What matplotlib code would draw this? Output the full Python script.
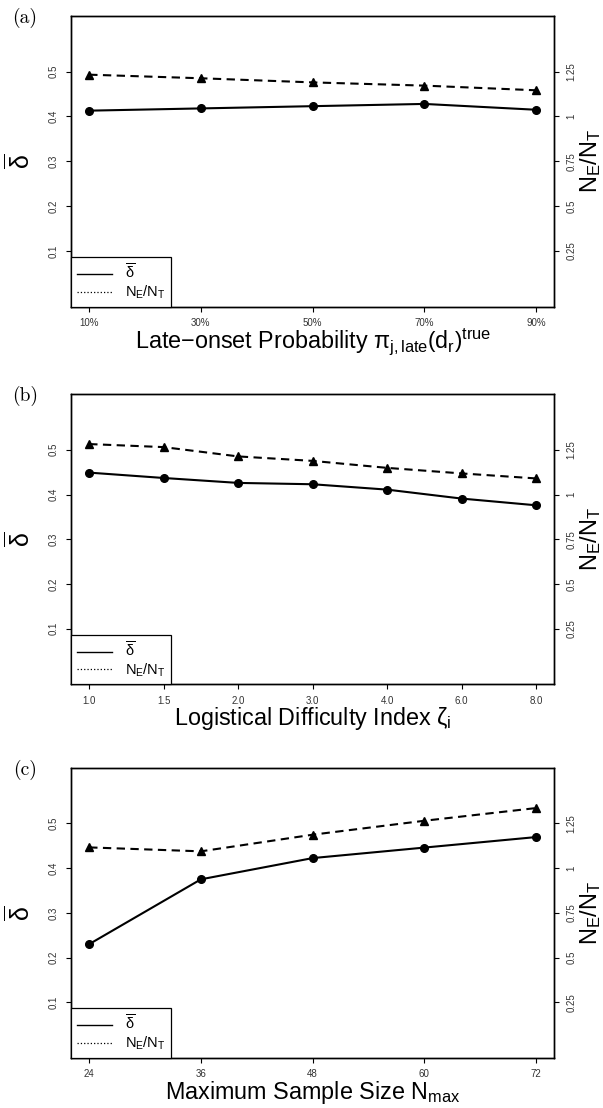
import numpy as np
import matplotlib
matplotlib.use("Agg")
import matplotlib.pyplot as plt
from matplotlib.lines import Line2D

plt.rcParams['font.family'] = ['Liberation Sans', 'DejaVu Sans']
plt.rcParams['mathtext.fontset'] = 'custom'
plt.rcParams['mathtext.rm'] = 'Liberation Sans'
plt.rcParams['mathtext.it'] = 'Liberation Sans'
plt.rcParams['mathtext.bf'] = 'Liberation Sans:bold'

# panel (a): late-onset probability
a_labels = ['10%', '30%', '50%', '70%', '90%']
a_delta = [0.413, 0.418, 0.423, 0.428, 0.415]
a_ratio = [1.233, 1.213, 1.190, 1.172, 1.146]

# panel (b): logistical difficulty index
b_labels = ['1.0', '1.5', '2.0', '3.0', '4.0', '6.0', '8.0']
b_delta = [0.449, 0.437, 0.426, 0.423, 0.411, 0.391, 0.376]
b_ratio = [1.282, 1.265, 1.213, 1.188, 1.149, 1.118, 1.090]

# panel (c): maximum sample size
c_labels = ['24', '36', '48', '60', '72']
c_delta = [0.230, 0.375, 0.4225, 0.446, 0.4695]
c_ratio = [1.116, 1.094, 1.187, 1.265, 1.336]

left_ticks = [0.1, 0.2, 0.3, 0.4, 0.5]
right_ticks = [0.25, 0.5, 0.75, 1.0, 1.25]
right_ticklabels = ['0.25', '0.5', '0.75', '1', '1.25']

panels = [
    ('(a)', a_labels, a_delta, a_ratio,
     'Late\u2212onset Probability $\\pi_{j,late}\\left(d_r\\right)^{true}$'),
    ('(b)', b_labels, b_delta, b_ratio,
     'Logistical Difficulty Index $\\zeta_i$'),
    ('(c)', c_labels, c_delta, c_ratio,
     'Maximum Sample Size $N_{max}$'),
]

W, H = 603, 1108
fig = plt.figure(figsize=(W / 100, H / 100), dpi=100)

# axes boxes in pixels: (top, bottom)
boxes = [(16, 306.7), (394.3, 684.3), (768, 1057.7)]
x0, x1 = 71.3, 554

tick_col = '#333333'

for (tag, labels, delta, ratio, xlabel), (top, bot) in zip(panels, boxes):
    ax = fig.add_axes([x0 / W, 1 - bot / H, (x1 - x0) / W, (bot - top) / H])
    ax2 = ax.twinx()
    x = np.arange(1, len(labels) + 1)

    ax.plot(x, delta, color='black', lw=1.5, marker='o', markersize=5.5)
    ax2.plot(x, ratio, color='black', lw=1.5, ls=(0, (4, 2.6)), marker='^', markersize=5.5)

    ext = 0.04 * (len(labels) - 1)
    ax.set_xlim(1 - ext, len(labels) + ext)
    ax.set_ylim(-0.024, 0.624)
    ax2.set_ylim(-0.06, 1.56)

    ax.set_xticks(x)
    ax.set_xticklabels(labels)
    ax.set_yticks(left_ticks)
    ax.set_yticklabels([str(t) for t in left_ticks], rotation=90, va='center')
    ax2.set_yticks(right_ticks)
    ax2.set_yticklabels(right_ticklabels, rotation=90, va='center')

    for a in (ax, ax2):
        a.tick_params(direction='out', length=3.6, width=0.8, labelsize=7,
                      labelcolor=tick_col, pad=4.5)
        for s in a.spines.values():
            s.set_linewidth(1.0)
    ax.tick_params(axis='y', pad=5.5)
    ax2.tick_params(axis='y', pad=5.5)

    ax.annotate(xlabel, xy=(0.5, 0), xycoords='axes fraction',
                xytext=(0, -29.5), textcoords='offset points',
                ha='center', va='baseline', fontsize=16.8)
    ax.annotate(r'$\overline{\delta}$', xy=(0, 0.5), xycoords='axes fraction',
                xytext=(-37.5, 0), textcoords='offset points',
                ha='center', va='center', rotation=90, fontsize=18)
    ax.annotate(r'$N_E/N_T$', xy=(1, 0.5), xycoords='axes fraction',
                xytext=(26.5, 0), textcoords='offset points',
                ha='center', va='center', rotation=90, fontsize=17)

    handles = [Line2D([], [], color='black', lw=1.0, ls='-'),
               Line2D([], [], color='black', lw=0.9, ls=':')]
    leg = ax2.legend(handles, [r'$\overline{\delta}$', r'$N_E/N_T$'],
                     loc='lower left', bbox_to_anchor=(0, 0), borderaxespad=0,
                     fontsize=10.5, fancybox=False, edgecolor='black',
                     handlelength=2.4, handletextpad=0.9, labelspacing=0.12,
                     borderpad=0.38, framealpha=1)
    leg.get_frame().set_linewidth(0.9)

    fig.text(25 / W, 1 - (top + 2) / H, tag, family='cmr10', fontsize=14,
             ha='center', va='center')

fig.savefig('out.png', dpi=100)
